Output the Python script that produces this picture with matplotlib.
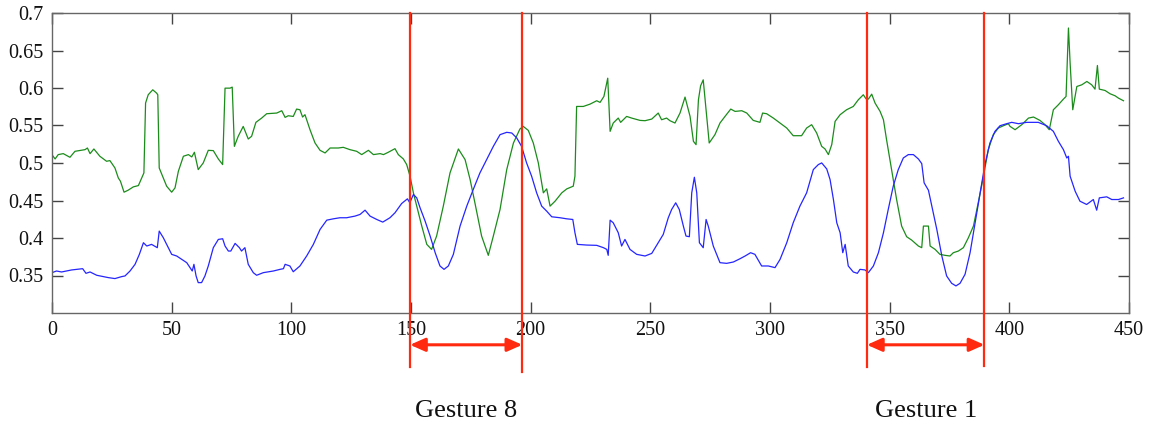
import matplotlib
matplotlib.use("Agg")
import matplotlib.pyplot as plt

plt.rcParams['font.family'] = ['Liberation Serif', 'DejaVu Serif']

# ---- data -------------------------------------------------------------
green_x = [0, 1.3, 2.6, 4.7, 7.5, 9.6, 13.8, 14.8, 15.9, 17.5, 20.0, 22.8, 24.2, 26.3, 27.7, 28.6,
           30.1, 31.8, 34.0, 36.1, 37.5, 38.4, 39.1, 40.2, 42.1, 43.7, 44.2, 44.8, 46.5, 47.9, 50.0,
           51.4, 52.8, 54.9, 57.0, 58.4, 59.5, 61.1, 63.2, 65.3, 67.4, 69.5, 71.3, 72.3, 74.4, 75.3,
           76.2, 77.8, 79.9, 82.0, 83.4, 85.2, 87.6, 89.7, 93.9, 96.0, 97.4, 98.7, 100.8, 102.2, 103.6,
           104.7, 105.7, 107.8, 109.9, 112.0, 114.1, 116.2, 119.6, 121.7, 124.5, 127.3, 129.4, 132.2,
           134.3, 137.1, 138.5, 140.5, 143.3, 144.7, 146.8, 148.2, 149.6, 151.0, 152.4, 154.5, 156.6,
           158.6, 160.7, 163.5, 166.3, 169.8, 172.6, 174.7, 176.7, 179.5, 182.3, 184.4, 187.2, 190.0,
           192.8, 195.5, 196.9, 199.0, 201.1, 203.2, 205.3, 206.7, 208.1, 210.2, 213.0, 215.1, 217.8,
           218.5, 219.2, 222.0, 224.8, 227.6, 229.0, 230.6, 232.2, 233.2, 234.5, 236.6, 237.6, 240.1,
           242.2, 245.7, 247.8, 250.6, 253.3, 254.7, 256.8, 258.2, 260.3, 262.4, 264.5, 266.6, 268.0,
           269.1, 270.1, 271.0, 272.1, 273.3, 274.6, 277.0, 279.1, 281.2, 283.6, 285.4, 288.2, 290.3,
           293.0, 295.8, 296.9, 298.6, 301.4, 304.2, 307.0, 309.7, 313.2, 315.3, 317.4, 319.5, 321.6,
           323.0, 324.4, 325.8, 327.2, 329.3, 332.0, 334.8, 336.9, 339.0, 340.1, 341.1, 342.5, 343.9,
           346.0, 347.4, 348.7, 350.1, 351.5, 352.9, 355.0, 357.1, 359.2, 362.0, 363.4, 364.1, 366.2,
           366.9, 369.0, 371.0, 373.1, 375.2, 376.6, 378.7, 380.8, 382.9, 385.0, 387.0, 389.2, 391.2,
           393.3, 395.4, 397.5, 399.6, 400.3, 402.4, 405.2, 408.0, 410.1, 412.8, 414.9, 416.7, 418.4,
           420.5, 422.6, 423.7, 424.7, 425.4, 426.5, 428.2, 430.3, 432.4, 434.4, 435.8, 436.8, 437.6,
           440.0, 442.1, 444.2, 445.6, 447.7]
green_y = [0.511, 0.5054, 0.5112, 0.5125, 0.5076, 0.5156, 0.5178, 0.520, 0.5125, 0.5187, 0.5090,
           0.5023, 0.5032, 0.4934, 0.4801, 0.4757, 0.4611, 0.4637, 0.4682, 0.4699, 0.4801, 0.4868,
           0.5799, 0.5910, 0.5976, 0.5932, 0.5910, 0.4934, 0.4801, 0.4691, 0.4611, 0.4668, 0.4890,
           0.5090, 0.5112, 0.5081, 0.5143, 0.4912, 0.5001, 0.5169, 0.5165, 0.5054, 0.4979, 0.5998,
           0.5998, 0.6012, 0.5222, 0.5356, 0.5488, 0.5320, 0.5356, 0.5542, 0.5599, 0.5657, 0.5666,
           0.5697, 0.5608, 0.5630, 0.5621, 0.5719, 0.5710, 0.5613, 0.5644, 0.5444, 0.5267, 0.5169,
           0.5134, 0.5200, 0.5200, 0.5209, 0.5178, 0.5156, 0.5112, 0.5169, 0.5112, 0.5125, 0.5112,
           0.5143, 0.5191, 0.5112, 0.5054, 0.4979, 0.4824, 0.4602, 0.4425, 0.4159, 0.3915, 0.3848,
           0.4026, 0.4425, 0.4868, 0.5187, 0.5045, 0.4779, 0.4469, 0.4026, 0.3769, 0.4026, 0.4380,
           0.4912, 0.5267, 0.5453, 0.5488, 0.5435, 0.5267, 0.5001, 0.4602, 0.4655, 0.4425, 0.4491,
           0.4602, 0.4655, 0.4691, 0.4824, 0.5754, 0.5754, 0.5785, 0.5830, 0.5808, 0.5887, 0.6131,
           0.5422, 0.5533, 0.5599, 0.5542, 0.5621, 0.5599, 0.5568, 0.5564, 0.5586, 0.5666, 0.5577,
           0.5599, 0.5564, 0.5533, 0.5666, 0.5879, 0.5621, 0.5289, 0.5245, 0.5843, 0.6029, 0.6109,
           0.5710, 0.5267, 0.5378, 0.5533, 0.5621, 0.5719, 0.5688, 0.5697, 0.5666, 0.5568, 0.5542,
           0.5666, 0.5657, 0.5599, 0.5533, 0.5466, 0.5364, 0.5364, 0.5466, 0.5511, 0.5400, 0.5222,
           0.5187, 0.5112, 0.5245, 0.5555, 0.5644, 0.5710, 0.5754, 0.5843, 0.5910, 0.5856, 0.5852,
           0.5918, 0.5799, 0.5688, 0.5577, 0.5311, 0.5045, 0.4779, 0.4513, 0.4159, 0.4017, 0.3972,
           0.3893, 0.3871, 0.4159, 0.4159, 0.3893, 0.3848, 0.3782, 0.3769, 0.3760, 0.3804, 0.3826,
           0.3871, 0.4004, 0.4159, 0.4469, 0.4824, 0.5178, 0.5378, 0.5466, 0.5497, 0.5524, 0.5488,
           0.5444, 0.5511, 0.5599, 0.5613, 0.5568, 0.5511, 0.5444, 0.5710, 0.5777, 0.5852, 0.5887,
           0.6800, 0.6331, 0.5710, 0.6020, 0.6043, 0.6087, 0.6043, 0.5985, 0.6300, 0.5985, 0.5967,
           0.5923, 0.5896, 0.5865, 0.5830]

blue_x = [0, 1.9, 4.0, 6.1, 8.2, 12.8, 14.2, 15.9, 18.7, 21.4, 23.5, 26.3, 29.1, 30.5, 32.6, 34.7,
          36.5, 38.2, 39.6, 41.6, 44.0, 44.8, 46.5, 47.9, 50.0, 52.1, 54.2, 56.3, 57.7, 58.6, 59.3,
          60.2, 61.1, 62.5, 63.9, 65.3, 67.4, 69.5, 71.3, 72.3, 73.7, 74.7, 76.5, 78.3, 79.2, 80.6,
          82.0, 84.1, 85.5, 88.3, 92.5, 95.3, 96.7, 97.4, 99.4, 100.8, 103.6, 106.4, 109.2, 112.0,
          114.8, 117.6, 120.3, 123.1, 126.6, 128.7, 130.8, 132.9, 135.7, 138.2, 141.2, 143.3, 146.1,
          148.5, 149.5, 151.0, 152.4, 153.8, 155.9, 158.0, 160.1, 162.1, 163.8, 165.6, 167.7, 170.5,
          173.3, 176.0, 178.8, 181.6, 184.4, 187.2, 190.0, 192.1, 194.2, 196.2, 198.3, 200.4, 202.5,
          204.6, 206.7, 208.8, 212.3, 215.0, 217.6, 218.5, 219.5, 223.4, 227.6, 230.4, 231.8, 232.4,
          233.2, 234.5, 236.6, 238.0, 239.4, 241.5, 244.3, 247.8, 250.6, 253.3, 255.4, 257.5, 258.9,
          260.6, 262.1, 263.8, 264.9, 266.3, 267.3, 268.4, 269.4, 270.5, 272.1, 273.3, 274.2, 276.3,
          279.1, 281.9, 284.7, 287.5, 289.6, 291.9, 293.7, 296.5, 299.3, 302.1, 304.2, 307.0, 309.7,
          312.5, 315.3, 318.1, 320.2, 321.6, 323.7, 325.1, 326.5, 327.9, 329.3, 330.4, 331.4, 332.7,
          334.8, 336.5, 337.6, 339.7, 341.1, 343.2, 345.3, 347.4, 349.4, 351.5, 353.6, 355.7, 357.8,
          359.9, 362.0, 363.4, 364.4, 366.2, 367.6, 369.7, 371.8, 373.8, 375.9, 377.7, 379.4, 381.5,
          383.6, 385.7, 387.8, 389.8, 391.9, 394.0, 396.1, 398.9, 401.0, 403.8, 407.2, 412.1, 415.6,
          418.4, 420.5, 422.6, 424.0, 424.7, 425.4, 427.5, 429.5, 432.3, 435.1, 436.5, 437.6, 440.7,
          442.8, 445.6, 447.7]
blue_y = [0.3538, 0.3560, 0.3547, 0.3560, 0.3574, 0.3591, 0.3529, 0.3547, 0.3503, 0.3485, 0.3472,
          0.3459, 0.3485, 0.3494, 0.3560, 0.3649, 0.3782, 0.3937, 0.3893, 0.3915, 0.3871, 0.4092,
          0.4004, 0.3915, 0.3782, 0.3760, 0.3715, 0.3671, 0.3605, 0.3560, 0.3649, 0.3494, 0.3405,
          0.3405, 0.3494, 0.3627, 0.3871, 0.3981, 0.3990, 0.3893, 0.3826, 0.3826, 0.3928, 0.3871,
          0.3826, 0.3871, 0.3649, 0.3538, 0.3503, 0.3538, 0.3560, 0.3582, 0.3591, 0.3649, 0.3627,
          0.3550, 0.3627, 0.3760, 0.3915, 0.4114, 0.4238, 0.4256, 0.4270, 0.4270, 0.4292, 0.4314,
          0.4371, 0.4292, 0.4247, 0.4212, 0.4270, 0.4336, 0.4460, 0.4522, 0.4470, 0.4580, 0.4535,
          0.4402, 0.4225, 0.4026, 0.3804, 0.3627, 0.3582, 0.3627, 0.3782, 0.4159, 0.4425, 0.4646,
          0.4868, 0.5045, 0.5222, 0.5378, 0.5409, 0.5400, 0.5333, 0.5222, 0.5001, 0.4824, 0.4602,
          0.4425, 0.4358, 0.4283, 0.4270, 0.4256, 0.4247, 0.4070, 0.3915, 0.3906, 0.3902, 0.3871,
          0.3848, 0.3769, 0.4238, 0.4203, 0.4070, 0.3893, 0.3981, 0.3848, 0.3782, 0.3760, 0.3795,
          0.3937, 0.4048, 0.4270, 0.4380, 0.4469, 0.4380, 0.4159, 0.4026, 0.4017, 0.4602, 0.4810,
          0.4602, 0.3937, 0.3871, 0.4247, 0.4159, 0.3893, 0.3671, 0.3662, 0.3680, 0.3724, 0.3760,
          0.3804, 0.3782, 0.3627, 0.3627, 0.3605, 0.3715, 0.3937, 0.4203, 0.4425, 0.4602, 0.4912,
          0.4979, 0.5001, 0.4921, 0.4779, 0.4513, 0.4203, 0.4070, 0.3804, 0.3915, 0.3627, 0.3547,
          0.3529, 0.3582, 0.3574, 0.3538, 0.3627, 0.3804, 0.4070, 0.4380, 0.4691, 0.4912, 0.5067,
          0.5112, 0.5112, 0.5054, 0.4992, 0.4735, 0.4637, 0.4425, 0.4114, 0.3760, 0.3494, 0.3396,
          0.3361, 0.3396, 0.3516, 0.3804, 0.4203, 0.4602, 0.4979, 0.5267, 0.5422, 0.5497, 0.5524,
          0.5542, 0.5524, 0.5542, 0.5542, 0.5497, 0.5422, 0.5289, 0.5178, 0.5067, 0.5090, 0.4824,
          0.4624, 0.4491, 0.4447, 0.4513, 0.4371, 0.4535, 0.4549, 0.4513, 0.4513, 0.4535]

x_ticks = [0, 50, 100, 150, 200, 250, 300, 350, 400, 450]
y_ticks = [0.35, 0.4, 0.45, 0.5, 0.55, 0.6, 0.65, 0.7]
y_tick_labels = ['0.35', '0.4', '0.45', '0.5', '0.55', '0.6', '0.65', '0.7']

gesture_names = ['Gesture 8', 'Gesture 1']
gesture_start = [149.6, 340.5]
gesture_end = [196.5, 389.6]

# ---- figure -----------------------------------------------------------
fig = plt.figure(figsize=(11.51, 4.25), dpi=100)
ax = fig.add_axes([52 / 1151, 1 - 313 / 425, 1077 / 1151, 300 / 425])

ax.plot(green_x, green_y, color='#1b8c1b', lw=0.9)
ax.plot(blue_x, blue_y, color='#2525ff', lw=0.9)

ax.set_xlim(0, 450)
ax.set_ylim(0.3, 0.7)
ax.set_xticks(x_ticks)
ax.set_xticklabels([str(t) for t in x_ticks])
ax.set_yticks(y_ticks)
ax.set_yticklabels(y_tick_labels)
ax.tick_params(direction='in', length=8, width=1, color='#444444',
               top=True, right=True, labelsize=14.5, labelcolor='#111111', pad=6)
for s in ax.spines.values():
    s.set_color('#666666')
    s.set_linewidth(1.0)

red = '#ff2a0f'
line_bottoms = [[0.228, 0.221], [0.228, 0.229]]
for i, name in enumerate(gesture_names):
    x0, x1 = gesture_start[i], gesture_end[i]
    b0, b1 = line_bottoms[i]
    ax.plot([x0, x0], [0.7, b0], color=red, lw=1.6, clip_on=False, zorder=5)
    ax.plot([x1, x1], [0.7, b1], color=red, lw=1.6, clip_on=False, zorder=5)
    ax.annotate('', xy=(x1, 0.2576), xytext=(x0, 0.2576),
                arrowprops=dict(arrowstyle='<|-|>,head_length=0.9,head_width=0.4',
                                color=red, lw=2.2, shrinkA=0, shrinkB=0),
                annotation_clip=False)
    ax.text((x0 + x1) / 2, 0.169, name, ha='center', va='center', fontsize=19,
            color='#111111', clip_on=False)

fig.savefig('out.png', dpi=100)
